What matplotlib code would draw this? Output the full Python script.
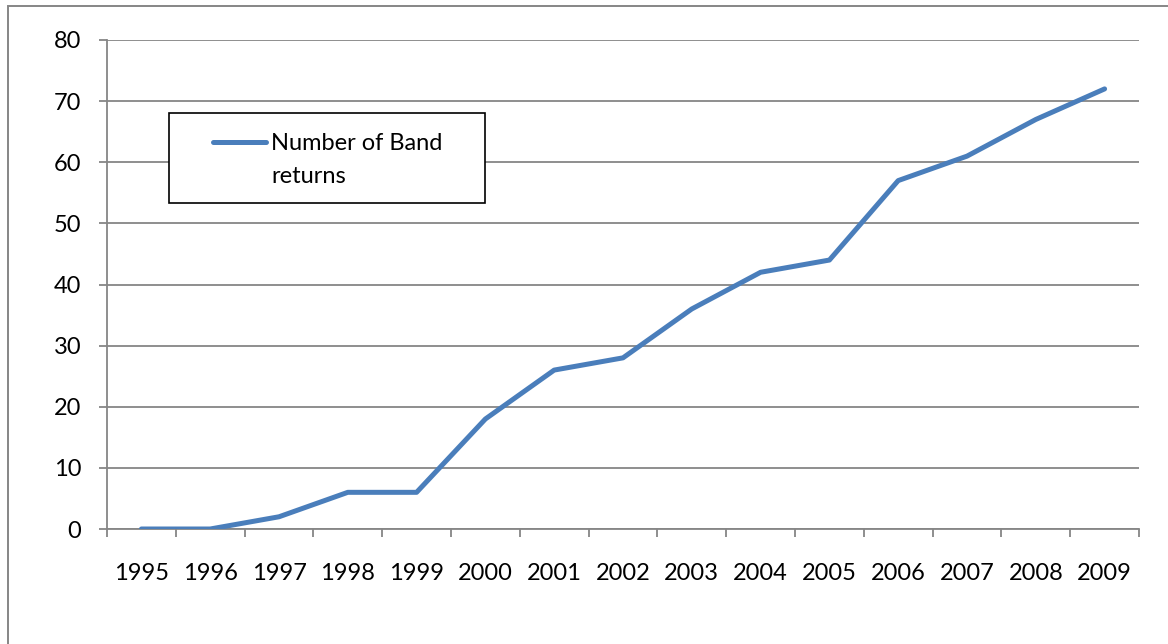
import matplotlib
matplotlib.use("Agg")
import matplotlib.pyplot as plt
from matplotlib.patches import Rectangle
from matplotlib.lines import Line2D
import numpy as np

years = ['1995', '1996', '1997', '1998', '1999', '2000', '2001', '2002',
         '2003', '2004', '2005', '2006', '2007', '2008', '2009']
band_returns = [0, 0, 2, 6, 6, 18, 26, 28, 36, 42, 44, 57, 61, 67, 72]
series_name = 'Number of Band\nreturns'

W, H = 1168, 644
grid_col = '#868686'
line_col = '#4a7ebb'
font = 'Lato'
fsize = 17

fig = plt.figure(figsize=(W / 100, H / 100), dpi=100)

# chart border (runs off the right and bottom edges)
fig.patches.append(Rectangle((8 / W, -0.1), 1.2, (H - 6) / H + 0.1,
                             transform=fig.transFigure, fill=False,
                             edgecolor=grid_col, linewidth=1.4))

ax = fig.add_axes([107 / W, 1 - 529 / H, (1139 - 107) / W, (529 - 40) / H])

x = np.arange(len(years))
ax.plot(x, band_returns, color=line_col, linewidth=3.6,
        solid_capstyle='round', solid_joinstyle='round', zorder=3)

ax.set_xlim(-0.5, len(years) - 0.5)
ax.set_ylim(0, 80)
ax.set_yticks(np.arange(0, 81, 10))
ax.yaxis.grid(True, color=grid_col, linewidth=1.3)
ax.set_axisbelow(True)

ax.set_xticks(x)
ax.set_xticklabels(years)
ax.set_xticks(np.arange(-0.5, len(years)), minor=True)
ax.tick_params(axis='x', which='major', length=0, pad=24.5)
ax.tick_params(axis='x', which='minor', length=6, width=1.3, color=grid_col)
ax.tick_params(axis='y', length=6, width=1.3, color=grid_col, pad=12.5)

for lab in ax.get_xticklabels() + ax.get_yticklabels():
    lab.set_fontfamily(font)
    lab.set_fontsize(fsize)
    lab.set_color('black')

for side in ['top', 'right']:
    ax.spines[side].set_visible(False)
for side in ['left', 'bottom']:
    ax.spines[side].set_color(grid_col)
    ax.spines[side].set_linewidth(1.3)

# legend box drawn by hand so the key sits beside the first line
fig.patches.append(Rectangle((169 / W, 1 - 203 / H), (485 - 169) / W, (203 - 113) / H,
                             transform=fig.transFigure, facecolor='white',
                             edgecolor='black', linewidth=1.2, zorder=5))
fig.lines.append(Line2D([213 / W, 266 / W], [1 - 142 / H, 1 - 142 / H],
                        transform=fig.transFigure, color=line_col, linewidth=3.6,
                        solid_capstyle='round', zorder=6))
for i, line in enumerate(series_name.split('\n')):
    fig.text(271 / W, 1 - (150 + 33 * i) / H, line, fontfamily=font,
             fontsize=fsize, va='baseline', ha='left', zorder=6)

fig.savefig('out.png', dpi=100)
